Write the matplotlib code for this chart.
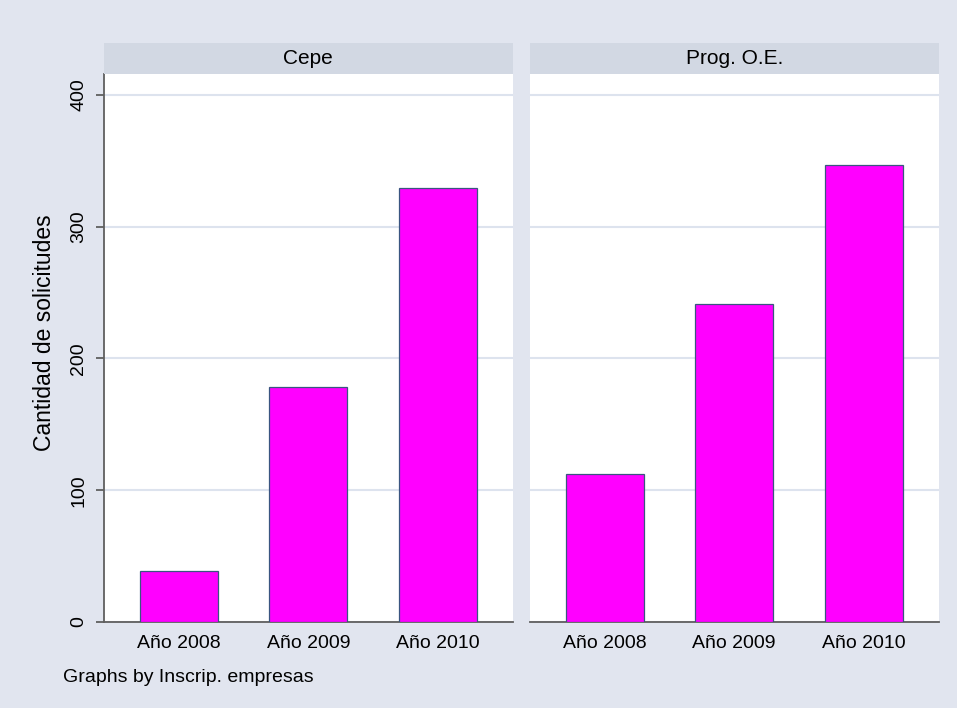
import numpy as np
import matplotlib
matplotlib.use('Agg')
import matplotlib.pyplot as plt

# ----------------- Data -----------------
groups = ['Cepe', 'Prog. O.E.']
years = ['Año 2008', 'Año 2009', 'Año 2010']
cepe = [39, 178, 329]
prog_oe = [112, 241, 347]
yticks = [0, 100, 200, 300, 400]

# ----------------- Style -----------------
plt.rcParams['font.family'] = ['Liberation Sans', 'DejaVu Sans']
bg = '#e1e5ef'
strip_color = '#d2d8e3'
grid_color = '#dde3ee'
axis_color = '#5f5f5f'
bar_color = '#ff00ff'
edge_color = '#3a5580'

fig = plt.figure(figsize=(9.57, 7.08), dpi=100, facecolor=bg)

W, H = 957, 708
def fig_box(x0, y0, x1, y1):
    # pixel box -> figure fraction [left, bottom, width, height]
    return [x0 / W, 1 - y1 / H, (x1 - x0) / W, (y1 - y0) / H]

panels = [(103.7, 513.0), (529.5, 939.0)]
plot_top, plot_bottom = 74, 622
strip_top = 43

x = np.arange(len(years))
for i, (name, vals) in enumerate(zip(groups, [cepe, prog_oe])):
    x0, x1 = panels[i]
    ax = fig.add_axes(fig_box(x0, plot_top, x1, plot_bottom))
    ax.set_facecolor('white')
    ax.bar(x, vals, width=0.6, color=bar_color, edgecolor=edge_color,
           linewidth=0.9, zorder=3)
    ax.set_xlim(-0.58, 2.58)
    ax.set_ylim(0, 415.8)
    ax.set_yticks(yticks)
    ax.yaxis.grid(True, color=grid_color, linewidth=1.5, zorder=0)
    ax.xaxis.grid(False)
    ax.set_xticks(x)
    ax.set_xticklabels(years, fontsize=14)
    ax.tick_params(axis='x', length=0, pad=9)
    for side in ['top', 'right']:
        ax.spines[side].set_visible(False)
    ax.spines['bottom'].set_color(axis_color)
    ax.spines['bottom'].set_linewidth(1.3)
    if i == 0:
        ax.spines['left'].set_color(axis_color)
        ax.spines['left'].set_linewidth(1.3)
        ax.set_yticklabels([str(v) for v in yticks], fontsize=14,
                           rotation=90, va='center')
        ax.tick_params(axis='y', length=5.5, width=1.3, color=axis_color, pad=6.5)
        ax.set_ylabel('Cantidad de solicitudes', fontsize=16.5)
        ax.yaxis.set_label_coords(-0.116, 0.528)
    else:
        ax.spines['left'].set_visible(False)
        ax.tick_params(axis='y', length=0, labelleft=False)

    # strip title
    sax = fig.add_axes(fig_box(x0, strip_top, x1, plot_top))
    sax.set_facecolor(strip_color)
    sax.set_xticks([])
    sax.set_yticks([])
    for s in sax.spines.values():
        s.set_visible(False)
    sax.text(0.5, 0.5, name, ha='center', va='center', fontsize=15,
             transform=sax.transAxes)

fig.text(63 / W, 1 - 677 / H, 'Graphs by Inscrip. empresas', fontsize=14,
         ha='left', va='center')

plt.savefig('out.png', dpi=100, facecolor=bg)
